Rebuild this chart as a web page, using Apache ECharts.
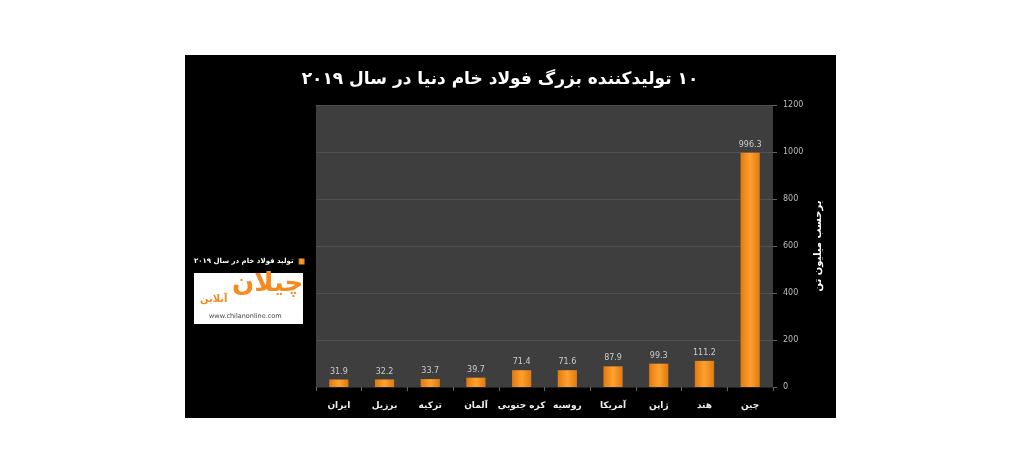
<!DOCTYPE html>
<html><head><meta charset="utf-8">
<script src="https://cdn.jsdelivr.net/npm/echarts@6/dist/echarts.min.js"></script>
<style>html,body{margin:0;padding:0;background:#fff;}#c{width:1024px;height:475px;direction:rtl;}</style>
</head><body><div id="c"></div>
<script>
const titleText = '۱۰ تولیدکننده بزرگ فولاد خام دنیا در سال ۲۰۱۹';
const seriesName = 'تولید فولاد خام در سال ۲۰۱۹';
const axisName = 'برحسب میلیون تن';
const categories = ['ایران','برزیل','ترکیه','آلمان','کره جنوبی','روسیه','آمریکا','ژاپن','هند','چین'];
const values = [31.9, 32.2, 33.7, 39.7, 71.4, 71.6, 87.9, 99.3, 111.2, 996.3];
const yTicks = [0, 200, 400, 600, 800, 1000, 1200];

const chart = echarts.init(document.getElementById('c'), null, {renderer:'canvas'});
const font = 'DejaVu Sans';
chart.setOption({
  backgroundColor: '#ffffff',
  animation: false,
  textStyle: {fontFamily: font},
  graphic: [
    {type:'rect', z:-10, shape:{x:185,y:55,width:651,height:363}, style:{fill:'#000'}},
    {type:'rect', z:10, shape:{x:194,y:273,width:109,height:51}, style:{fill:'#fff'}},
    {type:'text', z:11, left:232, top:271, style:{text:'چیلان', fill:'#f58a1f', font:'bold 26px "DejaVu Sans"'}},
    {type:'text', z:11, left:200, top:294, style:{text:'آنلاین', fill:'#f58a1f', font:'bold 10px "DejaVu Sans"'}},
    {type:'text', z:11, left:209, top:313, style:{text:'www.chilanonline.com', fill:'#444', font:'6.5px "DejaVu Sans"'}}
  ],
  title: {
    text: titleText, left: 495, top: 66, textAlign: 'center',
    textStyle: {color:'#fff', fontSize:17, fontWeight:'bold', fontFamily: font}
  },
  legend: {
    data: [seriesName], left: 189, top: 253, align: 'right',
    itemWidth: 6, itemHeight: 6, icon: 'rect', itemGap: 4,
    textStyle: {color:'#fff', fontSize:7, fontWeight:'bold', fontFamily: font, padding:[0,0,0,0]}
  },
  grid: {left:316, right:251, top:105, bottom:88, containLabel:false, show:true, backgroundColor:'#3e3e3e', borderWidth:0},
  xAxis: {
    type:'category', data: categories,
    axisLine: {show:true, lineStyle:{color:'#222', width:1}},
    axisTick: {show:true, alignWithLabel:false, length:4, lineStyle:{color:'#666'}},
    axisLabel: {interval:0, color:'#eee', fontSize:9, fontWeight:'bold', margin:14, fontFamily: font}
  },
  yAxis: {
    type:'value', position:'right', min:0, max:1200, interval:200,
    name: axisName, nameLocation:'middle', nameRotate:90, nameGap:40,
    nameTextStyle: {color:'#fff', fontSize:10, fontWeight:'bold', fontFamily: font},
    axisLine: {show:false},
    axisTick: {show:true, length:4, lineStyle:{color:'#666'}},
    axisLabel: {color:'#bbb', fontSize:8, margin:10, fontFamily: font, formatter: v => String(v)},
    splitLine: {show:true, lineStyle:{color:'#515151', width:1}}
  },
  series: [{
    name: seriesName, type:'bar', data: values, barWidth:'42%',
    itemStyle: {
      color: new echarts.graphic.LinearGradient(0,0,1,0,[
        {offset:0, color:'#e07a10'},{offset:0.5, color:'#ffa12e'},{offset:1, color:'#e07a10'}
      ])
    },
    label: {show:true, position:'top', color:'#ccc', fontSize:8, distance:4, fontFamily: font}
  }]
});
</script></body></html>
